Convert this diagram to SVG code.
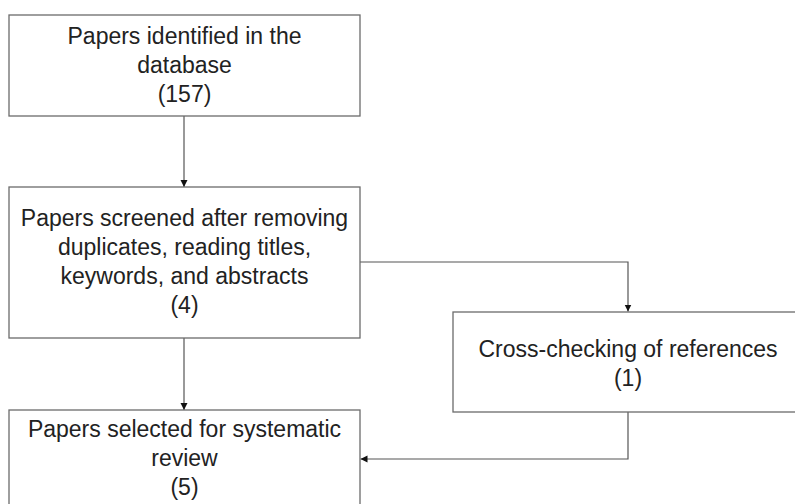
<svg xmlns="http://www.w3.org/2000/svg" width="795" height="504" viewBox="0 0 795 504">
<defs>
<style>
.box{fill:#fff;stroke:#6b6b6b;stroke-width:1.3}
.lbl{font-family:"Liberation Sans",Arial,sans-serif;font-size:23px;fill:#222;text-anchor:middle}
.con{fill:none;stroke:#555;stroke-width:1.2}
</style>
<marker id="ah" markerWidth="8" markerHeight="8" refX="7" refY="4" orient="auto" markerUnits="userSpaceOnUse">
<path d="M0,0.5 L7,4 L0,7.5 Z" fill="#111"/>
</marker>
</defs>
<rect width="795" height="504" fill="#fff"/>
<g id="connectors">
<path class="con" d="M184,116 V187" marker-end="url(#ah)"/>
<path class="con" d="M184,338 V410" marker-end="url(#ah)"/>
<path class="con" d="M360,262 H628 V311.5" marker-end="url(#ah)"/>
<path class="con" d="M628,412 V459 H360.5" marker-end="url(#ah)"/>
</g>
<g id="n1">
<rect class="box" x="9" y="15" width="351" height="101"/>
<text class="lbl" x="184.5" y="44">Papers identified in the</text>
<text class="lbl" x="184.5" y="73">database</text>
<text class="lbl" x="184.5" y="102">(157)</text>
</g>
<g id="n2">
<rect class="box" x="9" y="187" width="351" height="151"/>
<text class="lbl" x="184.5" y="226">Papers screened after removing</text>
<text class="lbl" x="184.5" y="255">duplicates, reading titles,</text>
<text class="lbl" x="184.5" y="284">keywords, and abstracts</text>
<text class="lbl" x="184.5" y="313">(4)</text>
</g>
<g id="n3">
<rect class="box" x="453" y="312" width="351" height="100"/>
<text class="lbl" x="628" y="357">Cross-checking of references</text>
<text class="lbl" x="628" y="386">(1)</text>
</g>
<g id="n4">
<rect class="box" x="9" y="410" width="351" height="101"/>
<text class="lbl" x="184.5" y="437">Papers selected for systematic</text>
<text class="lbl" x="184.5" y="466">review</text>
<text class="lbl" x="184.5" y="495">(5)</text>
</g>
</svg>
